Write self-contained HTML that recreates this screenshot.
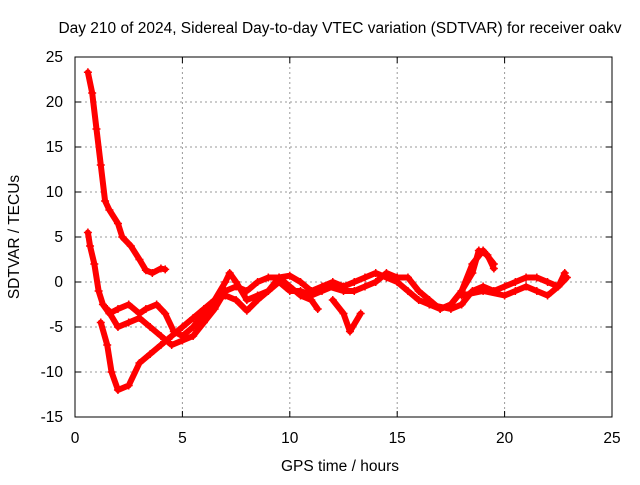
<!DOCTYPE html>
<html><head><meta charset="utf-8"><style>
body{margin:0;background:#fff}
svg{font-family:"Liberation Sans",sans-serif;font-size:15.5px}
</style></head><body>
<svg id="chart" width="640" height="480">
<rect width="640" height="480" fill="#fff"/>
<text x="340" y="33" text-anchor="middle">Day 210 of 2024, Sidereal Day-to-day VTEC variation (SDTVAR) for receiver oakv</text>
<text x="340" y="471" text-anchor="middle">GPS time / hours</text>
<text x="19" y="237" text-anchor="middle" transform="rotate(-90 19 237)">SDTVAR / TECUs</text>
<g id="grid"></g><g id="series"></g>
<rect x="75" y="57" width="537" height="360" fill="none" stroke="#000"/>
</svg>
<script>
const xTicks=[0,5,10,15,20,25];
const yTicks=[-15,-10,-5,0,5,10,15,20,25];
const trackA=[[0.6,23.3],[0.8,21],[1.0,17],[1.2,13],[1.4,9],[1.6,8],[2.0,6.5],[2.2,5],[2.6,4],[3.0,2.5],[3.3,1.3],[3.6,1.0],[4.0,1.5],[4.2,1.4]];
const trackB=[[0.6,5.5],[0.7,4],[0.9,2],[1.1,-1],[1.3,-2.5],[1.6,-3.5],[2.0,-3],[2.5,-2.5],[3.0,-3.5],[3.3,-3],[3.8,-2.5],[4.2,-3.5],[4.6,-5.5],[5,-6],[5.5,-5],[6,-3.5],[6.5,-2],[7,0],[7.2,1],[7.5,0],[8,-2],[8.5,-1.5],[9,-1],[9.5,0],[10,-1],[10.5,-1],[11,-1.5],[11.5,-1],[12,-0.5]];
const trackC=[[1.2,-4.5],[1.5,-7],[1.7,-10],[2.0,-12],[2.5,-11.5],[3,-9],[3.5,-8],[4,-7],[4.5,-6],[5,-5],[5.5,-4],[6,-3],[6.5,-2],[7,-1.5],[7.5,-2],[8,-3.2],[8.5,-2],[9,-1],[9.5,0.5],[10,0.7],[10.5,0],[11,-1],[11.5,-0.5],[12,0],[12.5,-0.5],[13,0],[13.5,0.5],[14,1],[14.5,0.5],[15,0],[15.5,-1],[16,-2],[16.5,-2.5],[17,-3],[17.5,-2.5],[18,-1],[18.5,2],[19,3.5],[19.5,2]];
const trackD=[[1.5,-3],[2,-5],[2.5,-4.5],[3,-4],[3.5,-5],[4,-6],[4.5,-7],[5,-6.5],[5.5,-6],[6,-4.5],[6.5,-3],[7,-1],[7.5,-0.5],[8,-1],[8.5,0],[9,0.5],[9.5,0.5],[10,-0.5],[10.5,-1.5],[11,-2],[11.3,-3]];
const trackE=[[11.8,-0.5],[12.5,-1],[13,-1],[13.5,-0.5],[14,0],[14.5,1],[15,0.5],[15.5,0.5],[16,-1],[16.5,-2],[17,-3],[17.5,-2.5],[18,-1],[18.5,1],[18.8,3.5],[19.2,3],[19.5,1.5]];
const trackF=[[16.5,-2.5],[17.5,-3],[18,-2.5],[18.5,-1],[19,-0.5],[19.5,-1],[20,-0.5],[20.5,0],[21,0.5],[21.5,0.5],[22,0],[22.5,-0.5],[22.8,1]];
const trackG=[[18,-1.5],[19,-1],[20,-1.5],[20.5,-1],[21,-0.5],[21.5,-1],[22,-1.5],[22.5,-0.5],[22.9,0.5]];
const trackH=[[12,-2],[12.5,-3.5],[12.8,-5.5],[13.3,-3.5]];
const tracks=[trackA,trackB,trackC,trackD,trackE,trackF,trackG,trackH];
const NS="http://www.w3.org/2000/svg";
const xS=v=>75+v*537/25, yS=v=>417-(v+15)*9;
const grid=document.getElementById('grid'), ser=document.getElementById('series');
function mk(tag,attrs,parent){const e=document.createElementNS(NS,tag);for(const k in attrs)e.setAttribute(k,attrs[k]);parent.appendChild(e);return e;}
xTicks.forEach(t=>{
  const x=xS(t);
  if(t>0&&t<25){const l=mk('line',{x1:x,x2:x,y1:57,y2:417,stroke:'#999','stroke-dasharray':'2,3'},grid);
  
  }
  const tk=mk('path',{d:`M${x} 417v-6M${x} 57v6`,stroke:'#000'},grid);
  
  
  const tx=mk('text',{x:x,y:443,'text-anchor':'middle'},grid);tx.textContent=t;
  
  
});
yTicks.forEach(t=>{
  const y=yS(t);
  if(t>-15&&t<25){const l=mk('line',{x1:75,x2:612,y1:y,y2:y,stroke:'#999','stroke-dasharray':'2,3'},grid);
  
  }
  const tk=mk('path',{d:`M75 ${y}h6M612 ${y}h-6`,stroke:'#000'},grid);
  
  
  const tx=mk('text',{x:63,y:y+5,'text-anchor':'end'},grid);tx.textContent=t;
  
  
});
tracks.forEach((tr,i)=>{
  const p=mk('polyline',{points:tr.map(d=>xS(d[0])+','+yS(d[1])).join(' '),fill:'none',stroke:'#f00','stroke-width':6,'stroke-linejoin':'round','stroke-linecap':'round'},ser);
  
  
  tr.forEach(d=>{
    const m=mk('path',{d:`M${xS(d[0])-4} ${yS(d[1])}h8M${xS(d[0])} ${yS(d[1])-4}v8`,stroke:'#f00','stroke-width':1.5},ser);
    
    
  });
});
</script>
</body></html>
